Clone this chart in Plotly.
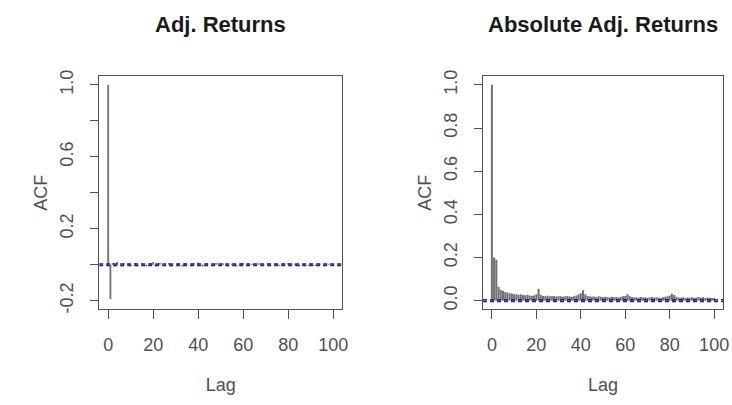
import plotly.graph_objects as go

# ---------------- data ----------------
lags = list(range(0, 101))

acf_adj = [
    1.0, -0.19, 0.01, -0.01, 0.015, 0.0, -0.01, 0.01, 0.0, 0.008,
    -0.008, 0.0, 0.01, -0.01, 0.0, 0.008, 0.0, -0.01, 0.0, 0.01,
    0.015, -0.01, 0.0, 0.01, 0.0, -0.008, 0.0, 0.01, -0.01, 0.0,
    0.0, 0.008, 0.0, -0.01, 0.01, 0.0, 0.0, -0.008, 0.01, 0.0,
    0.012, 0.0, -0.01, 0.0, 0.008, 0.0, -0.008, 0.0, 0.01, 0.0,
    -0.006, 0.008, 0.0, -0.01, 0.0, 0.006, 0.0, -0.008, 0.0, 0.008,
    0.01, 0.0, -0.008, 0.0, 0.006, -0.006, 0.0, 0.008, 0.0, -0.006,
    0.0, 0.008, -0.008, 0.0, 0.006, 0.0, -0.006, 0.0, 0.008, 0.0,
    0.01, -0.006, 0.0, 0.006, 0.0, -0.008, 0.0, 0.006, 0.0, -0.006,
    0.008, 0.0, -0.006, 0.0, 0.006, 0.0, -0.008, 0.0, 0.006, 0.0, 0.004,
]

acf_abs = [
    1.0, 0.20, 0.19, 0.065, 0.05, 0.045, 0.04, 0.038, 0.035, 0.033,
    0.03, 0.03, 0.028, 0.03, 0.026, 0.025, 0.027, 0.024, 0.022, 0.025,
    0.03, 0.055, 0.028, 0.022, 0.02, 0.023, 0.021, 0.02, 0.022, 0.019,
    0.02, 0.021, 0.018, 0.02, 0.022, 0.019, 0.018, 0.02, 0.024, 0.03,
    0.035, 0.048, 0.03, 0.022, 0.02, 0.018, 0.019, 0.017, 0.02, 0.018,
    0.016, 0.018, 0.017, 0.015, 0.018, 0.016, 0.017, 0.015, 0.018, 0.02,
    0.022, 0.03, 0.022, 0.017, 0.015, 0.016, 0.014, 0.017, 0.015, 0.016,
    0.014, 0.015, 0.017, 0.014, 0.016, 0.015, 0.013, 0.016, 0.018, 0.02,
    0.024, 0.032, 0.026, 0.018, 0.015, 0.014, 0.016, 0.013, 0.015, 0.014,
    0.016, 0.013, 0.015, 0.017, 0.014, 0.016, 0.013, 0.015, 0.014, 0.012,
    0.013,
]

ci_adj = 0.004
ci_abs = 0.004

titles = ["Adj. Returns", "Absolute Adj. Returns"]
x_ticks = [0, 20, 40, 60, 80, 100]
y_ticks_adj = [-0.2, 0.0, 0.2, 0.4, 0.6, 0.8, 1.0]
y_text_adj = ["-0.2", "", "0.2", "", "0.6", "", "1.0"]
y_ticks_abs = [0.0, 0.2, 0.4, 0.6, 0.8, 1.0]
y_text_abs = ["0.0", "0.2", "0.4", "0.6", "0.8", "1.0"]

# ---------------- style ----------------
W, H = 732, 405
FONT = "Liberation Sans, Arial, sans-serif"
AX = "#505050"
BAR = "#707070"
CI = "#20208c"


def stems(xs, ys):
    sx, sy = [], []
    for x, y in zip(xs, ys):
        sx += [x, x, None]
        sy += [0, y, None]
    return sx, sy


fig = go.Figure()

for i, (vals, ci) in enumerate([(acf_adj, ci_adj), (acf_abs, ci_abs)]):
    xa = "x" if i == 0 else "x2"
    ya = "y" if i == 0 else "y2"
    sx, sy = stems(lags, vals)
    fig.add_trace(go.Scatter(x=sx, y=sy, mode="lines",
                             line=dict(color=BAR, width=2.0 if i == 1 else 1.8),
                             xaxis=xa, yaxis=ya, showlegend=False,
                             hoverinfo="skip"))
    for c in (ci, -ci):
        fig.add_trace(go.Scatter(x=[-4, 104], y=[c, c], mode="lines",
                                 line=dict(color=CI, width=1.5, dash="4px,3px"),
                                 xaxis=xa, yaxis=ya, showlegend=False,
                                 hoverinfo="skip"))

ydom = [1 - 311 / H, 1 - 72 / H]
common_x = dict(range=[-4, 104], tickvals=x_ticks, ticks="outside", ticklen=9,
                tickcolor=AX, showline=True, linecolor=AX, linewidth=1,
                mirror=True, showgrid=False, zeroline=False,
                tickfont=dict(family=FONT, size=18, color=AX),
                ticklabelstandoff=10,
                title=dict(text="Lag", font=dict(family=FONT, size=18, color=AX),
                           standoff=24))
common_y = dict(ticks="outside", ticklen=8, tickcolor=AX, showline=True,
                linecolor=AX, linewidth=1, mirror=True, showgrid=False,
                zeroline=False, tickangle=-90,
                tickfont=dict(family=FONT, size=18, color=AX),
                ticklabelstandoff=10,
                title=dict(text="ACF", font=dict(family=FONT, size=18, color=AX),
                           standoff=4))

fig.update_layout(
    width=W, height=H,
    margin=dict(l=0, r=0, t=0, b=0),
    paper_bgcolor="white", plot_bgcolor="white",
    xaxis=dict(domain=[100 / W, 345 / W], anchor="y", **common_x),
    xaxis2=dict(domain=[487 / W, 729 / W], anchor="y2", **common_x),
    yaxis=dict(domain=ydom, anchor="x", range=[-0.248, 1.048],
               tickvals=y_ticks_adj, ticktext=y_text_adj, **common_y),
    yaxis2=dict(domain=ydom, anchor="x2", range=[-0.04, 1.04],
                tickvals=y_ticks_abs, ticktext=y_text_abs, **common_y),
)

for i, t in enumerate(titles):
    cx = (100 + 345) / 2 if i == 0 else (487 + 729) / 2
    fig.add_annotation(text="<b>%s</b>" % t, x=cx / W, y=1 - 19 / H,
                       xref="paper", yref="paper", showarrow=False,
                       xanchor="center", yanchor="middle",
                       font=dict(family=FONT, size=22, color="#1a1a1a"))

fig.write_html("out.html")
